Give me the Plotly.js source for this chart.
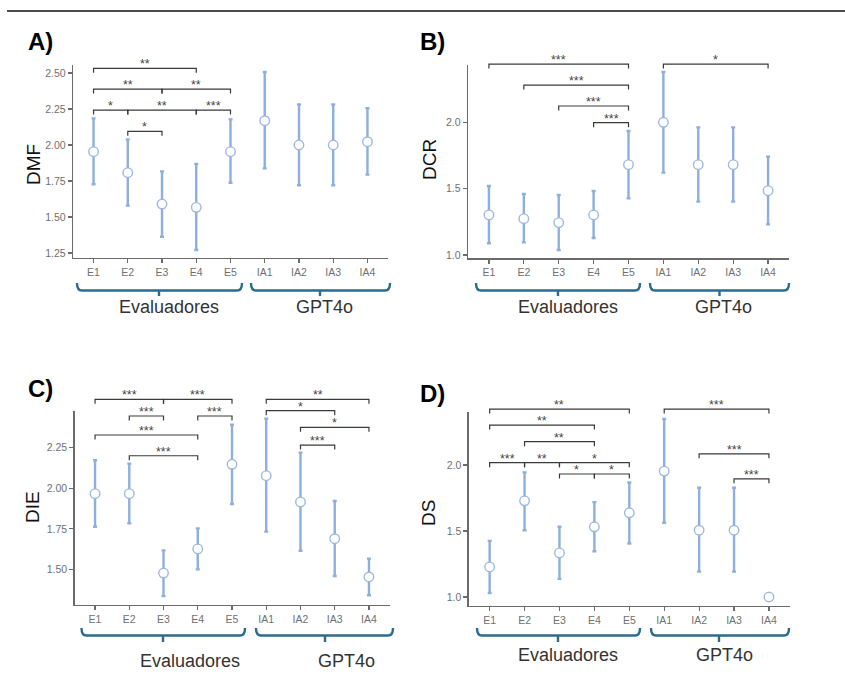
<!DOCTYPE html>
<html><head><meta charset="utf-8">
<script src="https://cdn.plot.ly/plotly-3.0.1.min.js"></script>
<style>html,body{margin:0;padding:0;background:#fff}#chart{width:845px;height:675px}</style>
</head><body><div id="chart"></div>
<script>
const categories = ['E1','E2','E3','E4','E5','IA1','IA2','IA3','IA4'];
const groupLabels = ['Evaluadores','GPT4o'];

// A) DMF
const dmfMean  = [1.954,1.808,1.590,1.567,1.954,2.169,2.000,2.000,2.023];
const dmfUpper = [2.185,2.039,1.817,1.868,2.178,2.507,2.282,2.282,2.255];
const dmfLower = [1.727,1.579,1.363,1.271,1.738,1.838,1.720,1.720,1.794];
const dmfTicks = [1.25,1.50,1.75,2.00,2.25,2.50];
const dmfSigFrom  = ['E1','E1','E3','E1','E2','E4','E2'];
const dmfSigTo    = ['E4','E3','E5','E2','E4','E5','E3'];
const dmfSigY     = [2.533,2.389,2.389,2.243,2.243,2.243,2.095];
const dmfSigLabel = ['**','**','**','*','**','***','*'];

// B) DCR
const dcrMean  = [1.302,1.274,1.244,1.302,1.681,2.000,1.681,1.681,1.485];
const dcrUpper = [1.520,1.460,1.452,1.482,1.935,2.379,1.962,1.962,1.741];
const dcrLower = [1.088,1.095,1.038,1.128,1.427,1.621,1.402,1.402,1.231];
const dcrTicks = [1.0,1.5,2.0];
const dcrSigFrom  = ['E1','E2','E3','E4','IA1'];
const dcrSigTo    = ['E5','E5','E5','E5','IA4'];
const dcrSigY     = [2.439,2.281,2.123,1.997,2.439];
const dcrSigLabel = ['***','***','***','***','*'];

// C) DIE
const dieMean  = [1.967,1.967,1.477,1.626,2.148,2.078,1.916,1.689,1.453];
const dieUpper = [2.173,2.152,1.617,1.753,2.393,2.430,2.220,1.922,1.566];
const dieLower = [1.763,1.784,1.335,1.500,1.903,1.733,1.615,1.459,1.340];
const dieTicks = [1.50,1.75,2.00,2.25];
const dieSigFrom  = ['E1','E3','E2','E4','E1','E2','IA1','IA1','IA2','IA2'];
const dieSigTo    = ['E3','E5','E3','E5','E4','E4','IA4','IA3','IA4','IA3'];
const dieSigY     = [2.549,2.549,2.446,2.446,2.329,2.201,2.549,2.479,2.376,2.267];
const dieSigLabel = ['***','***','***','***','***','***','**','*','*','***'];

// D) DS
const dsMean  = [1.228,1.729,1.334,1.532,1.638,1.954,1.506,1.506,1.000];
const dsUpper = [1.425,1.944,1.532,1.719,1.868,2.349,1.828,1.828,null];
const dsLower = [1.030,1.506,1.137,1.347,1.405,1.562,1.192,1.192,null];
const dsTicks = [1.0,1.5,2.0];
const dsSigFrom  = ['E1','E1','E2','E1','E2','E3','E3','E4','IA1','IA2','IA3'];
const dsSigTo    = ['E5','E4','E4','E2','E3','E5','E4','E5','IA4','IA4','IA4'];
const dsSigY     = [2.424,2.303,2.177,2.018,2.018,2.018,1.932,1.932,2.424,2.085,1.895];
const dsSigLabel = ['**','**','**','***','**','*','*','*','***','***','***'];

const W = 845, H = 675;
const FONT = 'Liberation Sans, Arial, sans-serif';
const BLUE = '#8eaedb';
const TEAL = '#2a6c8b';

const panels = [
  {name:'DMF', tag:'A)', mean:dmfMean, upper:dmfUpper, lower:dmfLower, ticks:dmfTicks, fmt:'.2f',
   sf:dmfSigFrom, st:dmfSigTo, sy:dmfSigY, sl:dmfSigLabel,
   xpx:[73,388], ypx:[258,65], yr:[1.215,2.556], tagPos:[40,41], titlePos:[33,165],
   gy:[283,290.5,296], ev:[77,242,159], gp:[251,390,320], evL:[169,307], gpL:[324,307]},
  {name:'DCR', tag:'B)', mean:dcrMean, upper:dcrUpper, lower:dcrLower, ticks:dcrTicks, fmt:'.1f',
   sf:dcrSigFrom, st:dcrSigTo, sy:dcrSigY, sl:dcrSigLabel,
   xpx:[468,789], ypx:[258.3,65], yr:[0.975,2.432], tagPos:[432,42], titlePos:[429,160],
   gy:[283,290.5,296], ev:[476,640,558], gp:[650,789,719.5], evL:[568,307], gpL:[723,307]},
  {name:'DIE', tag:'C)', mean:dieMean, upper:dieUpper, lower:dieLower, ticks:dieTicks, fmt:'.2f',
   sf:dieSigFrom, st:dieSigTo, sy:dieSigY, sl:dieSigLabel,
   xpx:[74.5,389.5], ypx:[605,411], yr:[1.280,2.477], tagPos:[40,388], titlePos:[33,507],
   gy:[628,635.5,642], ev:[81.5,245,163], gp:[256,393,325], evL:[190,661], gpL:[346,661]},
  {name:'DS', tag:'D)', mean:dsMean, upper:dsUpper, lower:dsLower, ticks:dsTicks, fmt:'.1f',
   sf:dsSigFrom, st:dsSigTo, sy:dsSigY, sl:dsSigLabel,
   xpx:[468.7,789.9], ypx:[605.7,411.7], yr:[0.934,2.404], tagPos:[432,393], titlePos:[428,513],
   gy:[628,635.5,642], ev:[477,640,558], gp:[651,789,719], evL:[568,655], gpL:[724,655]}
];

const XR = [-0.6, 8.6];
const px2x = p => p / W;
const py2y = p => 1 - p / H;

const data = [];
const shapes = [];
const annotations = [];
const layout = {
  width: W, height: H, margin: {l:0, r:0, t:0, b:0},
  paper_bgcolor: '#fff', plot_bgcolor: '#fff', showlegend: false,
  font: {family: FONT}
};

// top rule
shapes.push({type:'line', xref:'paper', yref:'paper', x0:px2x(7), x1:1, y0:py2y(11), y1:py2y(11),
  line:{color:'#111', width:1.5}});

panels.forEach((p, k) => {
  const s = k === 0 ? '' : String(k + 1);
  const xa = 'x' + s, ya = 'y' + s;
  const catX = c => {
    const i = categories.indexOf(c);
    return p.xpx[0] + (i - XR[0]) / (XR[1] - XR[0]) * (p.xpx[1] - p.xpx[0]);
  };
  const valY = v => p.ypx[0] + (v - p.yr[0]) / (p.yr[1] - p.yr[0]) * (p.ypx[1] - p.ypx[0]);

  const plus = p.mean.map((m, i) => p.upper[i] == null ? null : p.upper[i] - m);
  const minus = p.mean.map((m, i) => p.lower[i] == null ? null : m - p.lower[i]);
  data.push({
    type:'scatter', mode:'markers', x:categories, y:p.mean, xaxis:xa, yaxis:ya,
    marker:{size:9.5, color:'#ffffff', line:{color:'#9db8e0', width:1.4}},
    error_y:{type:'data', symmetric:false, array:plus, arrayminus:minus, color:BLUE, thickness:2.4, width:2},
    hoverinfo:'skip', cliponaxis:false
  });

  const axCommon = {showgrid:false, zeroline:false, showline:true, linecolor:'#6b6b6b', linewidth:1.3,
    ticks:'outside', ticklen:4, tickwidth:1.2, tickcolor:'#6b6b6b',
    tickfont:{family:FONT, size:10.5, color:'#707070'}, fixedrange:true};
  layout['xaxis' + s] = Object.assign({}, axCommon, {
    type:'category', categoryorder:'array', categoryarray:categories, range:XR,
    domain:[px2x(p.xpx[0]), px2x(p.xpx[1])], anchor:ya
  });
  layout['yaxis' + s] = Object.assign({}, axCommon, {
    range:p.yr, tickvals:p.ticks, tickformat:p.fmt,
    domain:[py2y(p.ypx[0]), py2y(p.ypx[1])], anchor:xa
  });

  // significance brackets
  p.sf.forEach((f, j) => {
    const x1 = catX(f), x2 = catX(p.st[j]), yy = valY(p.sy[j]);
    shapes.push({type:'path', xref:'paper', yref:'paper',
      path:`M ${px2x(x1)},${py2y(yy+4.5)} L ${px2x(x1)},${py2y(yy)} L ${px2x(x2)},${py2y(yy)} L ${px2x(x2)},${py2y(yy+4.5)}`,
      line:{color:'#3a3a3a', width:1.2}});
    annotations.push({xref:'paper', yref:'paper', x:px2x((x1+x2)/2), y:py2y(yy), text:p.sl[j],
      showarrow:false, xanchor:'center', yanchor:'bottom', yshift:-5,
      font:{family:FONT, size:12.5, color:'#444'}});
  });

  // group braces
  [[p.ev, p.evL, groupLabels[0]], [p.gp, p.gpL, groupLabels[1]]].forEach(([g, L, txt]) => {
    const [l, r, c] = g, [t, b, tk] = p.gy;
    shapes.push({type:'path', xref:'paper', yref:'paper',
      path:`M ${px2x(l)},${py2y(t)} Q ${px2x(l)},${py2y(b)} ${px2x(l+5)},${py2y(b)} L ${px2x(r-5)},${py2y(b)} Q ${px2x(r)},${py2y(b)} ${px2x(r)},${py2y(t)} M ${px2x(c)},${py2y(b)} L ${px2x(c)},${py2y(tk)}`,
      line:{color:TEAL, width:2.4}});
    annotations.push({xref:'paper', yref:'paper', x:px2x(L[0]), y:py2y(L[1]), text:txt,
      showarrow:false, xanchor:'center', yanchor:'middle',
      font:{family:FONT, size:18, color:'#333'}});
  });

  // axis title
  annotations.push({xref:'paper', yref:'paper', x:px2x(p.titlePos[0]), y:py2y(p.titlePos[1]), text:p.name,
    showarrow:false, textangle:-90, xanchor:'center', yanchor:'middle',
    font:{family:FONT, size:19, color:'#111'}});
  // panel tag
  annotations.push({xref:'paper', yref:'paper', x:px2x(p.tagPos[0]), y:py2y(p.tagPos[1]), text:'<b>' + p.tag + '</b>',
    showarrow:false, xanchor:'center', yanchor:'middle',
    font:{family:FONT, size:24, color:'#000'}});
});

layout.shapes = shapes;
layout.annotations = annotations;
Plotly.newPlot('chart', data, layout, {staticPlot:true, displayModeBar:false});
</script>
</body></html>
